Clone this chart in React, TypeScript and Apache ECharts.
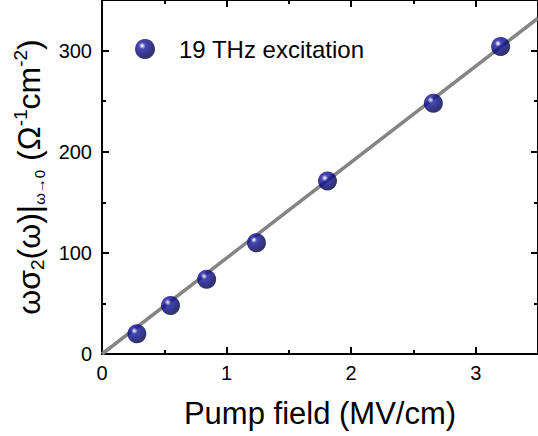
import React, { useEffect, useRef } from 'react';
import * as echarts from 'echarts';

const pumpField = [0.28, 0.55, 0.84, 1.24, 1.81, 2.66, 3.2];
const sigmaValues = [20, 48, 74, 110, 171, 248, 304];
const fitX = [0, 3.5];
const fitY = [0, 332];
const seriesName = '19 THz excitation';
const xAxisTitle = 'Pump field (MV/cm)';

const FONT = '"Liberation Sans", Arial, sans-serif';

export default function App() {
  const ref = useRef<HTMLDivElement>(null);
  useEffect(() => {
    if (!ref.current) return;
    const chart = echarts.init(ref.current, null, { renderer: 'svg' });
    const sphere = new echarts.graphic.RadialGradient(0.36, 0.34, 0.64, [
      { offset: 0, color: '#ffffff' },
      { offset: 0.08, color: '#c8c8f0' },
      { offset: 0.26, color: '#1a1aa0' },
      { offset: 0.6, color: '#080882' },
      { offset: 1, color: '#000042' },
    ]);
    const axisLine = { show: true, onZero: false, lineStyle: { color: '#000', width: 2 } };
    const majorTick = { show: true, inside: true, length: 7, lineStyle: { color: '#000', width: 2 } };
    const minorTick = { show: true, splitNumber: 2, length: 4, lineStyle: { color: '#000', width: 2 } };
    const labelStyle = { color: '#000', fontSize: 20, fontFamily: FONT };
    const xBase = { type: 'value', min: 0, max: 3.5, interval: 1, splitLine: { show: false }, axisLine, axisTick: majorTick, minorTick };
    const yBase = { type: 'value', min: 0, max: 350, interval: 100, splitLine: { show: false }, axisLine, axisTick: majorTick, minorTick };
    chart.setOption({
      animation: false,
      backgroundColor: '#fff',
      grid: { left: 102, right: -5, top: 0, bottom: 82, containLabel: false },
      legend: {
        data: [seriesName],
        left: 130,
        top: 32,
        itemWidth: 20,
        itemHeight: 20,
        icon: 'circle',
        textStyle: { color: '#000', fontSize: 24, fontFamily: FONT, padding: [0, 0, 0, 19] },
      },
      xAxis: [
        {
          ...xBase, position: 'bottom',
          axisLabel: { ...labelStyle, margin: 9, showMaxLabel: false },
          name: xAxisTitle, nameLocation: 'middle', nameGap: 44,
          nameTextStyle: { color: '#000', fontSize: 31, fontFamily: FONT },
        },
        { ...xBase, position: 'top', axisLabel: { show: false } },
      ],
      yAxis: [
        {
          ...yBase, position: 'left',
          axisLabel: { ...labelStyle, margin: 10, showMaxLabel: false },
          name: '{m|ωσ}{sub|2}{m|(ω)|}{sub2|ω→0}{m| (Ω}{sup|-1}{m|cm}{sup|-2}{m|)}',
          nameLocation: 'middle', nameRotate: 90, nameGap: 55,
          nameTextStyle: {
            color: '#000', fontFamily: FONT, fontSize: 32,
            rich: {
              m: { fontSize: 32, lineHeight: 36, fontFamily: FONT, color: '#000' },
              sub: { fontSize: 19, lineHeight: 19, verticalAlign: 'bottom', fontFamily: FONT, color: '#000' },
              sub2: { fontSize: 15, lineHeight: 15, verticalAlign: 'bottom', fontFamily: FONT, color: '#000' },
              sup: { fontSize: 19, lineHeight: 19, verticalAlign: 'top', fontFamily: FONT, color: '#000' },
            },
          },
        },
        { ...yBase, position: 'right', axisLabel: { show: false } },
      ],
      series: [
        {
          name: 'fit',
          type: 'line',
          data: fitX.map((x, i) => [x, fitY[i]]),
          showSymbol: false,
          symbol: 'none',
          lineStyle: { color: '#858585', width: 3.5 },
          clip: true,
          z: 1,
        },
        {
          name: seriesName,
          type: 'scatter',
          data: pumpField.map((x, i) => [x, sigmaValues[i]]),
          symbol: 'circle',
          symbolSize: 19,
          itemStyle: { color: sphere },
          z: 3,
        },
      ],
    });
    return () => chart.dispose();
  }, []);
  return <div ref={ref} style={{ width: 538, height: 436, position: 'absolute', left: 0, top: 0 }} />;
}
